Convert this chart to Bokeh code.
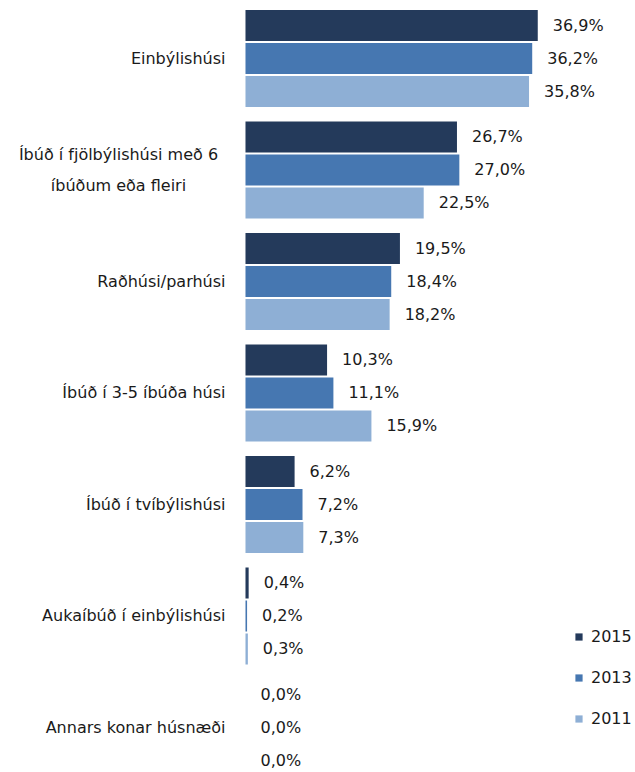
from bokeh.plotting import figure
from bokeh.models import Range1d, ColumnDataSource, Legend, LegendItem
from bokeh.core.properties import value
from bokeh.embed import file_html
from bokeh.resources import INLINE

# ---- data ----
categories = [
    "Einbýlishúsi",
    "Íbúð í fjölbýlishúsi með 6\níbúðum eða fleiri",
    "Raðhúsi/parhúsi",
    "Íbúð í 3-5 íbúða húsi",
    "Íbúð í tvíbýlishúsi",
    "Aukaíbúð í einbýlishúsi",
    "Annars konar húsnæði",
]
series_names = ["2015", "2013", "2011"]
values_2015 = [36.9, 26.7, 19.5, 10.3, 6.2, 0.4, 0.0]
values_2013 = [36.2, 27.0, 18.4, 11.1, 7.2, 0.2, 0.0]
values_2011 = [35.8, 22.5, 18.2, 15.9, 7.3, 0.3, 0.0]

# ---- style ----
colors = ["#243A5B", "#4677B1", "#8EAFD5"]
FONT_NAME = "DejaVu Sans"
FONT = value(FONT_NAME)
FS = "16px"
TXT = "#1a1a1a"
dodge = [-0.296, 0.0, 0.296]
bar_h = 0.278

p = figure(width=635, height=772,
           x_range=Range1d(-30.93, 49.24),
           y_range=Range1d(6.404, -0.520),
           x_axis_location=None, y_axis_location=None,
           output_backend="svg", toolbar_location=None,
           min_border=0)
p.grid.visible = False
p.outline_line_color = None
p.background_fill_color = "white"

renderers = []
for name, vals, col, dy in zip(series_names, [values_2015, values_2013, values_2011], colors, dodge):
    ys = [i + dy for i in range(len(categories))]
    labels = [f"{v:.1f}%".replace(".", ",") for v in vals]
    src = ColumnDataSource(dict(y=ys, right=vals, label=labels))
    r = p.hbar(y="y", left=0, right="right", height=bar_h, source=src,
               fill_color=col, line_color=None)
    renderers.append((name, r))
    p.text(x="right", y="y", text="label", source=src, x_offset=15,
           text_align="left", text_baseline="middle",
           text_font=FONT, text_font_size=FS, text_color=TXT)

# category labels
single = [(i, c) for i, c in enumerate(categories) if "\n" not in c]
multi = [(i, c) for i, c in enumerate(categories) if "\n" in c]
s1 = ColumnDataSource(dict(y=[i for i, _ in single], t=[c for _, c in single], x=[0] * len(single)))
p.text(x="x", y="y", text="t", source=s1, x_offset=-20,
       text_align="right", text_baseline="middle",
       text_font=FONT, text_font_size=FS, text_color=TXT)
s2 = ColumnDataSource(dict(y=[i for i, _ in multi], t=[c for _, c in multi], x=[0] * len(multi)))
p.text(x="x", y="y", text="t", source=s2, x_offset=-127,
       text_align="center", text_baseline="middle", text_line_height=1.6,
       text_font=FONT, text_font_size=FS, text_color=TXT)

legend = Legend(items=[LegendItem(label=n, renderers=[r]) for n, r in renderers],
                location=(574, 44), orientation="vertical",
                glyph_width=9, glyph_height=9, label_standoff=8,
                label_height=20, spacing=21, padding=0, margin=0,
                border_line_color=None, background_fill_alpha=0,
                label_text_font=FONT_NAME, label_text_font_size=FS, label_text_color=TXT)
p.add_layout(legend, "center")

open("out.html", "w").write(file_html(p, INLINE))
